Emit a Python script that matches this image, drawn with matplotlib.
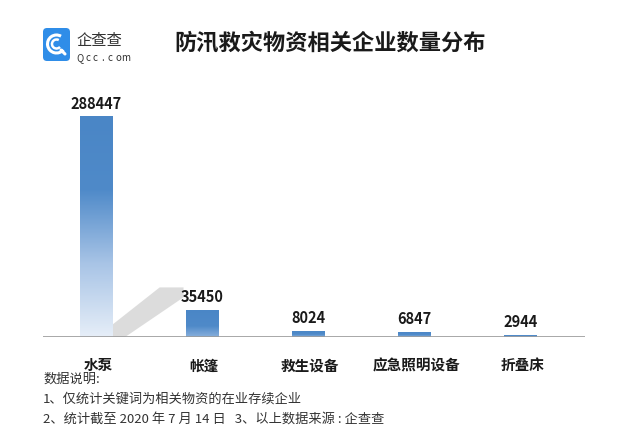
import numpy as np
import matplotlib
matplotlib.use("Agg")
import matplotlib.pyplot as plt
from matplotlib.patches import FancyBboxPatch, Polygon, Arc
from matplotlib.colors import LinearSegmentedColormap

plt.rcParams['font.family'] = ['Noto Sans CJK SC', 'DejaVu Sans']

categories = ["水泵", "帐篷", "救生设备", "应急照明设备", "折叠床"]
counts = [288447, 35450, 8024, 6847, 2944]
title = "防汛救灾物资相关企业数量分布"
notes = ["数据说明:",
         "1、仅统计关键词为相关物资的在业存续企业",
         "2、统计截至 2020 年 7 月 14 日   3、以上数据来源 : 企查查"]

W, H = 640, 431
fig = plt.figure(figsize=(W / 100, H / 100), dpi=100)
fig.patch.set_facecolor("white")

# main axes: baseline at y=338 px, x from 43 to 585 px
ax = fig.add_axes([43 / W, (H - 338) / H, (585 - 43) / W, (338 - 90) / H])
x = np.arange(len(categories))
bw = 0.31
ymax = counts[0] * 248 / 221
for s in ax.spines.values():
    s.set_visible(False)
ax.set_yticks([])
ax.set_xticks([])
ax.axhline(0, color="#9a9a9a", lw=1.2, zorder=5)

# shadow band from first bar toward second
sh = Polygon([(x[0] + bw / 2, 0), (x[0] + bw / 2, 0.05 * ymax),
              (x[0] + 0.6, 0.2 * ymax), (x[1] - bw / 2 - 0.02, 0.2 * ymax),
              (x[1] - bw / 2 - 0.02, 0.16 * ymax), (x[0] + bw / 2 + 0.12, 0)],
             closed=True, facecolor="#d4d4d4", edgecolor="none", alpha=0.8, zorder=1)
ax.add_patch(sh)

cmap = LinearSegmentedColormap.from_list("bar", ["#e6eef8", "#a8c4e6", "#4f8ac9", "#4a86c6"])
bars = ax.bar(x, counts, width=bw, color="none", zorder=2)
for b, v in zip(bars, counts):
    grad = np.linspace(1, 0, 256).reshape(-1, 1)
    if v < counts[0] * 0.5:
        grad = 0.45 + 0.55 * grad
    im = ax.imshow(grad, cmap=cmap, vmin=0, vmax=1, aspect="auto",
                   extent=(b.get_x(), b.get_x() + b.get_width(), 0, v), zorder=2)
    im.set_clip_path(b)
    ax.text(b.get_x() + b.get_width() / 2, v + ymax * 0.022, str(v),
            ha="center", va="bottom", fontsize=10.5, fontweight="bold", color="#1a1a1a")
ax.set_xlim(-0.5, 4.61)
ax.set_ylim(0, ymax)

for xi, c in zip(x, categories):
    ax.text(xi + 0.02, -ymax * 0.11, c, ha="center", va="center", fontsize=10.5,
            fontweight="bold", color="#1a1a1a")

# header
fig.text(330 / W, 1 - 43 / H, title, ha="center", va="center", fontsize=16,
         fontweight="bold", color="#1a1a1a")
lax = fig.add_axes([43 / W, 1 - 62 / H, 27 / W, 33 / H])
lax.set_xlim(0, 27)
lax.set_ylim(0, 33)
lax.axis("off")
lax.add_patch(FancyBboxPatch((0, 0), 27, 33, boxstyle="round,pad=0,rounding_size=4",
                             facecolor="#2f8de8", edgecolor="none"))
lax.add_patch(Arc((13.5, 17), 18, 18, theta1=60, theta2=320, color="white", lw=2.2))
lax.add_patch(Arc((13.5, 17), 9, 9, theta1=60, theta2=320, color="white", lw=1.8))
lax.plot([18, 22], [11, 7], color="white", lw=2.2, solid_capstyle="round")
fig.text(76 / W, 1 - 41 / H, "企查查", ha="left", va="center", fontsize=11,
         fontweight="light", color="#333333")
for i, ch in enumerate("Qcc.com"):
    fig.text((80 + 7.6 * i) / W, 1 - 58 / H, ch, ha="center", va="center",
             fontsize=7, color="#333333")

for i, n in enumerate(notes):
    fig.text(43 / W, 1 - (379 + 20 * i) / H, n, ha="left", va="center",
             fontsize=9.5, color="#333333")

fig.savefig("out.png", dpi=100, facecolor="white")
